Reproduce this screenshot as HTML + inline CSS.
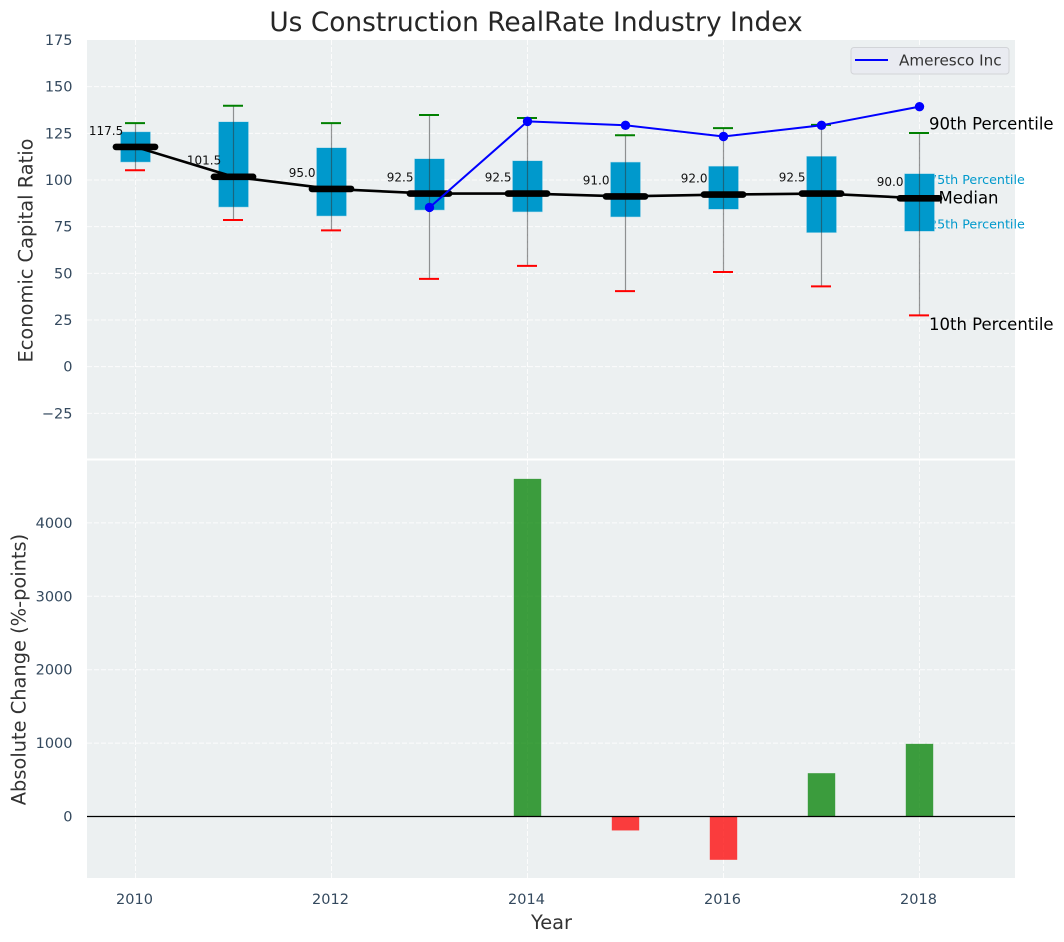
<!DOCTYPE html>
<html>
<head>
<meta charset="utf-8">
<title>Us Construction RealRate Industry Index</title>
<style>
html,body{margin:0;padding:0;background:#fff;width:1064px;height:942px;overflow:hidden}
svg{display:block}
text{font-family:"DejaVu Sans","Liberation Sans",sans-serif}
</style>
</head>
<body>
<svg id="chart" xmlns="http://www.w3.org/2000/svg" width="1064" height="942" viewBox="0 0 1064 942"></svg>
<script>
const years = [2010, 2011, 2012, 2013, 2014, 2015, 2016, 2017, 2018];
const p90 = [130.5, 139.8, 130.5, 134.8, 133.2, 124.0, 127.8, 129.5, 125.2];
const p75 = [125.8, 131.2, 117.3, 111.4, 110.3, 109.6, 107.4, 112.7, 103.4];
const medians = [117.5, 101.5, 95.0, 92.5, 92.5, 91.0, 92.0, 92.5, 90.0];
const p25 = [109.6, 85.5, 80.7, 83.9, 82.9, 80.2, 84.3, 71.8, 72.5];
const p10 = [105.2, 78.6, 73.0, 47.0, 54.0, 40.5, 50.7, 43.0, 27.5];
const companyYears = [2013, 2014, 2015, 2016, 2017, 2018];
const companyValues = [85.3, 131.4, 129.3, 123.3, 129.3, 139.3];
const changeYears = [2014, 2015, 2016, 2017, 2018];
const changeValues = [4600, -190, -590, 590, 990];
const topTicks = [175, 150, 125, 100, 75, 50, 25, 0, -25];
const bottomTicks = [4000, 3000, 2000, 1000, 0];
const xTicks = [2010, 2012, 2014, 2016, 2018];
const seriesName = 'Ameresco Inc';

const svg = document.getElementById('chart');
const NS = 'http://www.w3.org/2000/svg';
const L = 87, R = 1015, T1 = 40, B1 = 459, T2 = 460, B2 = 878;
const xScale = v => 135.5 + (v - 2010) * 98;
const yTop = v => 366.67 - v * 1.8667;
const yBottom = v => 816.5 - v * 0.0734;
const fmt = v => String(v).replace('-', '\u2212');

function el(tag, attrs, txt) {
  const n = document.createElementNS(NS, tag);
  for (const k in attrs) n.setAttribute(k, attrs[k]);
  if (txt !== undefined) n.textContent = txt;
  svg.appendChild(n);
  return n;
}
let n;

n = el('rect', {x: L, y: T1, width: R - L, height: B1 - T1, fill: '#ecf0f1'});


n = el('rect', {x: L, y: T2, width: R - L, height: B2 - T2, fill: '#ecf0f1'});



const dash = '5,2';
topTicks.forEach(t => {
  if (t !== 175) {
    n = el('line', {x1: L, x2: R, y1: yTop(t), y2: yTop(t), stroke: '#fff', 'stroke-width': 1, 'stroke-dasharray': dash, opacity: 0.85});
    
    
  }
  n = el('text', {x: 72.5, y: yTop(t) + 5, 'text-anchor': 'end', 'font-size': 14.5, fill: '#34495e'}, fmt(t));
  
  
});
bottomTicks.forEach(t => {
  n = el('line', {x1: L, x2: R, y1: yBottom(t), y2: yBottom(t), stroke: '#fff', 'stroke-width': 1, 'stroke-dasharray': dash, opacity: 0.85});
  
  
  n = el('text', {x: 72.5, y: yBottom(t) + 5, 'text-anchor': 'end', 'font-size': 14.5, fill: '#34495e'}, fmt(t));
  
  
});
xTicks.forEach(t => {
  n = el('line', {x1: xScale(t), x2: xScale(t), y1: T1, y2: B1, stroke: '#fff', 'stroke-width': 1, 'stroke-dasharray': dash, opacity: 0.85});
  
  
  n = el('line', {x1: xScale(t), x2: xScale(t), y1: T2, y2: B2, stroke: '#fff', 'stroke-width': 1, 'stroke-dasharray': dash, opacity: 0.85});
  
  
  n = el('text', {x: xScale(t) - 1, y: 904, 'text-anchor': 'middle', 'font-size': 14.5, fill: '#34495e'}, t);
  
  
});

n = el('line', {x1: L, x2: R, y1: 459.5, y2: 459.5, stroke: '#fff', 'stroke-width': 2});



const last = years.length - 1;
const lx = xScale(years[last]);

n = el('text', {x: lx + 9.5, y: yTop(p75[last]) + 10.5, 'font-size': 12.7, fill: '#0099cc'}, '75th Percentile');


n = el('text', {x: lx + 9.5, y: yTop(p25[last]) - 3, 'font-size': 12.7, fill: '#0099cc'}, '25th Percentile');



years.forEach((y, i) => {
  n = el('rect', {x: xScale(y) - 15, y: yTop(p75[i]), width: 30, height: yTop(p25[i]) - yTop(p75[i]), fill: '#0099cc', stroke: '#a8d8ea', 'stroke-width': 0.5});
  
  
  n = el('line', {x1: xScale(y), x2: xScale(y), y1: yTop(p90[i]), y2: yTop(p10[i]), stroke: '#333', 'stroke-width': 1.2, opacity: 0.5});
  
  
  n = el('line', {x1: xScale(y) - 10.5, x2: xScale(y) + 9.5, y1: yTop(p90[i]), y2: yTop(p90[i]), stroke: '#008000', 'stroke-width': 2});
  
  
  n = el('line', {x1: xScale(y) - 10.5, x2: xScale(y) + 9.5, y1: yTop(p10[i]), y2: yTop(p10[i]), stroke: '#ff0000', 'stroke-width': 2});
  
  
});

n = el('polyline', {points: years.map((y, i) => xScale(y) + ',' + (yTop(medians[i]) - 0.4)).join(' '), fill: 'none', stroke: '#000', 'stroke-width': 2.6});



years.forEach((y, i) => {
  n = el('line', {x1: xScale(y) - 19.6, x2: xScale(y) + 19.6, y1: yTop(medians[i]) - 0.4, y2: yTop(medians[i]) - 0.4, stroke: '#000', 'stroke-width': 6.6, 'stroke-linecap': 'round'});
  
  
  n = el('text', {x: xScale(y) - 29.4, y: yTop(medians[i]) - 12.5, 'text-anchor': 'middle', 'font-size': 12, fill: '#111'}, medians[i].toFixed(1));
  
  
});

n = el('polyline', {points: companyYears.map((y, i) => xScale(y) + ',' + yTop(companyValues[i])).join(' '), fill: 'none', stroke: '#0000ff', 'stroke-width': 2});


companyYears.forEach((y, i) => {
  n = el('circle', {cx: xScale(y), cy: yTop(companyValues[i]), r: 4.7, fill: '#0000ff'});
  
  
});

n = el('text', {x: lx + 9.5, y: yTop(p90[last]) - 3.5, 'font-size': 16.5, fill: '#000'}, '90th Percentile');


n = el('text', {x: lx + 9.5, y: yTop(p10[last]) + 14.5, 'font-size': 16.5, fill: '#000'}, '10th Percentile');


n = el('text', {x: lx + 19, y: yTop(medians[last]) + 5, 'font-size': 16.5, fill: '#000'}, 'Median');



changeYears.forEach((y, i) => {
  const v = changeValues[i];
  n = el('rect', {x: xScale(y) - 13.7, y: Math.min(yBottom(v), yBottom(0)), width: 27.4, height: Math.abs(yBottom(v) - yBottom(0)), fill: v >= 0 ? '#008000' : '#ff0000', opacity: 0.75});
  
  
});
n = el('line', {x1: L, x2: R, y1: yBottom(0), y2: yBottom(0), stroke: '#000', 'stroke-width': 1.2});



n = el('rect', {x: 851, y: 47.5, width: 158, height: 26.5, rx: 3, fill: '#e9ebf1', stroke: '#d2d4d8', 'stroke-width': 1});


n = el('line', {x1: 855, x2: 888, y1: 60, y2: 60, stroke: '#0000ff', 'stroke-width': 2});


n = el('text', {x: 899, y: 65.5, 'font-size': 15.2, fill: '#333'}, seriesName);



n = el('text', {x: 536, y: 31, 'text-anchor': 'middle', 'font-size': 26.4, fill: '#262626'}, 'Us Construction RealRate Industry Index');


n = el('text', {x: 551.5, y: 929, 'text-anchor': 'middle', 'font-size': 19.4, fill: '#333'}, 'Year');


n = el('text', {transform: 'translate(32.5,250.5) rotate(-90)', 'text-anchor': 'middle', 'font-size': 19.4, fill: '#333'}, 'Economic Capital Ratio');


n = el('text', {transform: 'translate(25.5,669.5) rotate(-90)', 'text-anchor': 'middle', 'font-size': 19.4, fill: '#333'}, 'Absolute Change (%-points)');


</script>
</body>
</html>
